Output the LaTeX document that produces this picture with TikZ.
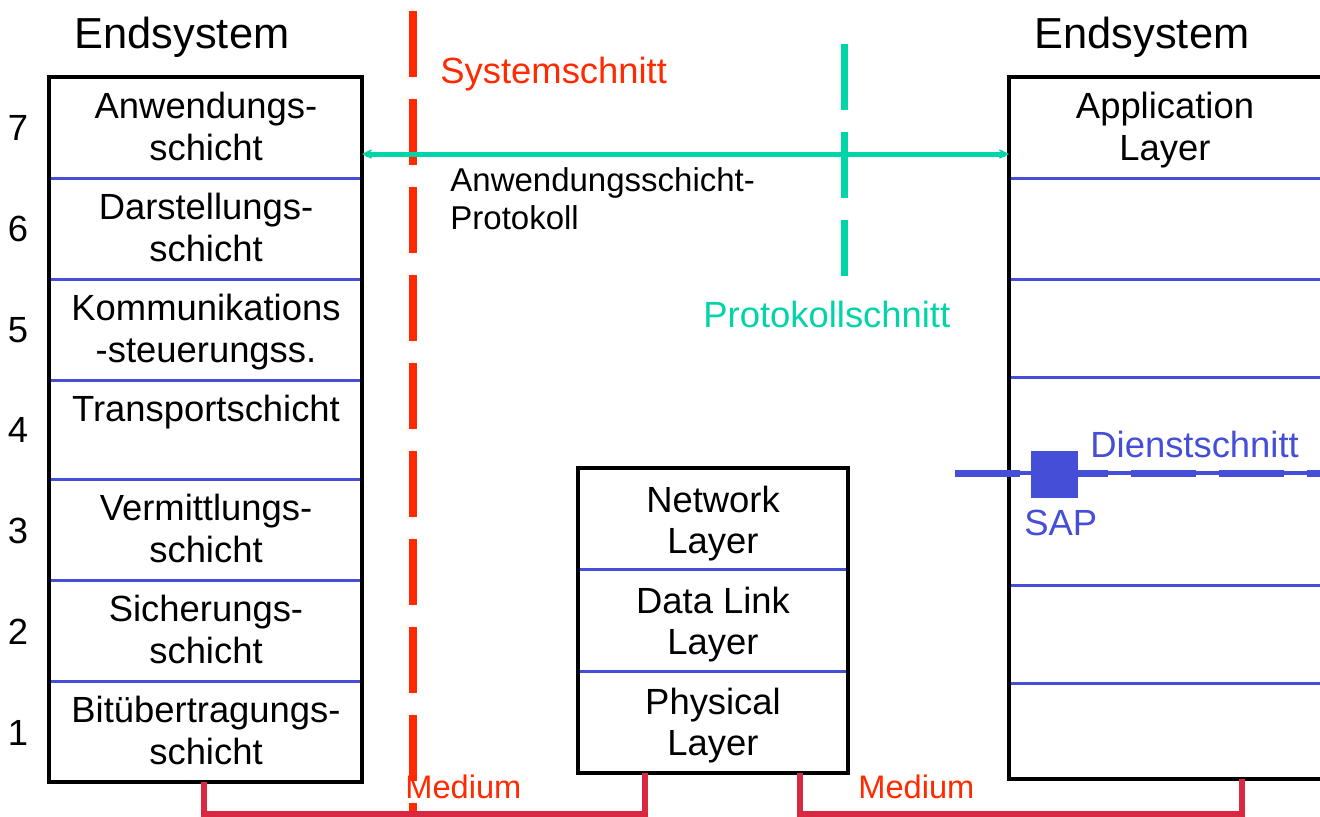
\documentclass[tikz,border=0pt]{standalone}
\usepackage{fontspec}
\setmainfont{Liberation Sans}
\usetikzlibrary{arrows.meta}

\definecolor{cutred}{RGB}{255,42,0}
\definecolor{protogreen}{RGB}{0,212,168}
\definecolor{layerblue}{RGB}{68,78,214}
\definecolor{mediumred}{RGB}{216,40,66}

\newcommand\layerfont{\fontsize{18.2}{21}\selectfont}
\newcommand\titlefont{\fontsize{21.7}{26}\selectfont}
\newcommand\protofont{\fontsize{16.5}{19}\selectfont}
\newcommand\mediumfont{\fontsize{16.3}{19}\selectfont}

\tikzset{
  frame/.style={draw=black, line width=2pt, inner sep=0, outer sep=0},
  divider/.style={draw=layerblue, line width=1.5pt, shorten <=1pt, shorten >=1pt},
  txt/.style={font=\layerfont, inner sep=0, anchor=base},
  txtw/.style={font=\layerfont, inner sep=0, anchor=base west},
  syscut/.style={draw=cutred, line width=4pt, dash pattern=on 33pt off 11pt},
  protocut/.style={draw=protogreen, line width=3.5pt, dash pattern=on 33pt off 11pt},
  protoarrow/.style={draw=protogreen, line width=2.5pt,
    {Stealth[length=8pt,width=8pt,inset=5.5pt]}-{Stealth[length=8pt,width=8pt,inset=5.5pt]}},
  servthin/.style={draw=layerblue, line width=2pt},
  servdash/.style={draw=layerblue, line width=3.5pt, dash pattern=on 32.5pt off 11.5pt},
  medium/.style={draw=mediumred, line width=3pt},
}

\begin{document}
\begin{tikzpicture}[x=0.5pt, y=-0.5pt]
\useasboundingbox (0,0) rectangle (1320,816);

% titles
\node[font=\titlefont, inner sep=0, anchor=base] (tL) at (182,48) {Endsystem};
\node[font=\titlefont, inner sep=0, anchor=base] (tR) at (1142,48) {Endsystem};

% left end system: seven layers
\node[frame, anchor=north west, minimum width=156.5pt, minimum height=352.5pt] (esL) at (49,77) {};
\foreach \y in {178,279,380,479,580,681}
  \draw[divider] (esL.west |- 0,\y) -- (esL.east |- 0,\y);

\node[txt] (l7a) at (206,118) {Anwendungs-};
\node[txt] (l7b) at (206,160) {schicht};
\node[txt] (l6a) at (206,219) {Darstellungs-};
\node[txt] (l6b) at (206,261) {schicht};
\node[txt] (l5a) at (206,320) {Kommunikations};
\node[txt] (l5b) at (206,362) {-steuerungss.};
\node[txt] (l4a) at (206,421) {Transportschicht};
\node[txt] (l3a) at (206,520) {Vermittlungs-};
\node[txt] (l3b) at (206,562) {schicht};
\node[txt] (l2a) at (206,621) {Sicherungs-};
\node[txt] (l2b) at (206,663) {schicht};
\node[txt] (l1a) at (206,722) {Bitübertragungs-};
\node[txt] (l1b) at (206,764) {schicht};

% layer numbers
\foreach \n/\y in {7/140,6/241,5/342,4/442,3/543,2/644,1/745}
  \node[txt] (num\n) at (18,\y) {\n};

% intermediate system
\node[frame, anchor=north west, minimum width=135pt, minimum height=152.5pt] (is) at (578,468) {};
\foreach \y in {569,671}
  \draw[divider] (is.west |- 0,\y) -- (is.east |- 0,\y);
\node[txt] (n1) at (713,512) {Network};
\node[txt] (n2) at (713,553) {Layer};
\node[txt] (d1) at (713,613) {Data Link};
\node[txt] (d2) at (713,654) {Layer};
\node[txt] (p1) at (713,714) {Physical};
\node[txt] (p2) at (713,755) {Layer};

% right end system
\node[frame, anchor=north west, minimum width=160.5pt, minimum height=351pt] (esR) at (1009,77) {};
\foreach \y in {178,279,377,585,683}
  \draw[divider] (esR.west |- 0,\y) -- (esR.east |- 0,\y);
\node[txt] (a1) at (1165,118) {Application};
\node[txt] (a2) at (1165,160) {Layer};

% system cut
\draw[syscut] (413,11) -- (413,840);
\node[txtw, text=cutred] (sysL) at (440,83) {Systemschnitt};

% protocol cut and application protocol
\draw[protocut] (844,44) -- (844,276);
\draw[protoarrow] (esL.east |- 0,154) -- (esR.west |- 0,154);
\node[txtw, font=\protofont] (ap1) at (450,191) {Anwendungsschicht-};
\node[txtw, font=\protofont] (ap2) at (450,229) {Protokoll};
\node[txtw, text=protogreen] (protoL) at (703,327) {Protokollschnitt};

% service cut with service access point
\coordinate (svA) at (955,473);
\coordinate (svB) at (1330,473);
\draw[servthin] (svA) -- (svB);
\draw[servdash] (svA) -- (svB);
\node[fill=layerblue, minimum size=23.5pt, inner sep=0] (sap) at (1054,474) {};
\node[txtw, text=layerblue] (svL) at (1090,457) {Dienstschnitt};
\node[txtw, text=layerblue] (sapL) at (1024,535) {SAP};

% transmission media
\draw[medium] (204,0 |- esL.south) -- (204,814) -| (645,0 |- is.south);
\draw[medium] (800,0 |- is.south) -- (800,814) -| (1242,0 |- esR.south);
\node[txtw, font=\mediumfont, text=cutred] (m1) at (405,798) {Medium};
\node[txtw, font=\mediumfont, text=cutred] (m2) at (858,798) {Medium};
\end{tikzpicture}
\end{document}
